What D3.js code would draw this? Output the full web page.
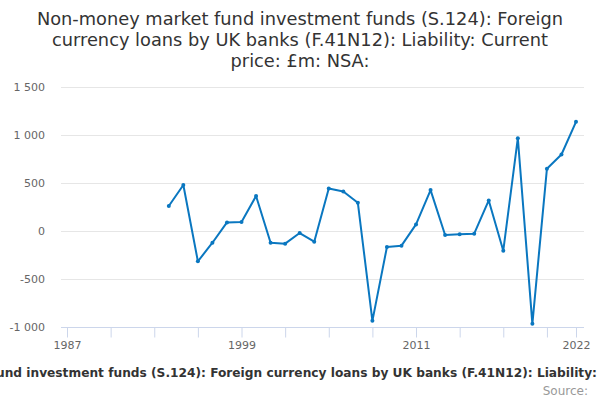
<!DOCTYPE html>
<html>
<head>
  <meta charset="utf-8">
  <title>Foreign currency loans by UK banks</title>
  <script src="https://d3js.org/d3.v7.min.js"></script>
  <style>
    body {
      margin: 0;
      background: #fff;
      overflow: hidden;
    }
    text {
      font-family: "DejaVu Sans", sans-serif;
    }
  </style>
</head>
<body>
  <div id="chart"></div>
  <script>
    // Annual values, £m
    var years = [1994, 1995, 1996, 1997, 1998, 1999, 2000, 2001, 2002, 2003,
                 2004, 2005, 2006, 2007, 2008, 2009, 2010, 2011, 2012, 2013,
                 2014, 2015, 2016, 2017, 2018, 2019, 2020, 2021, 2022];
    var values = [260, 479, -316, -122, 89, 94, 364, -122, -132, -21,
                  -111, 443, 412, 294, -936, -166, -153, 69, 426, -42,
                  -35, -28, 318, -205, 967, -967, 648, 797, 1137];
    var yTicks = [-1000, -500, 0, 500, 1000, 1500];
    var xTicks = [1987, 1990, 1993, 1996, 1999, 2002, 2005, 2008, 2011, 2014, 2017, 2020, 2022];
    var xLabels = [1987, 1999, 2011, 2022];
    var titleLines = [
      "Non-money market fund investment funds (S.124): Foreign",
      "currency loans by UK banks (F.41N12): Liability: Current",
      "price: £m: NSA:"
    ];
    var seriesName = "Non-money market fund investment funds (S.124): Foreign currency loans by UK banks (F.41N12): Liability: Current price: £m: NSA:";

    var width = 600, height = 400;
    var plotLeft = 61, plotRight = 584, plotTop = 87, plotBottom = 327;

    var svg = d3.select("#chart")
      .append("svg")
      .attr("width", width)
      .attr("height", height);

    var x = d3.scaleLinear().domain([1987, 2022]).range([67, 576]);
    var y = d3.scaleLinear().domain([-1000, 1500]).range([plotBottom, plotTop]);

    // "1 500", "-1 000": space for thousands, plain hyphen for minus
    var fmt = function(d) {
      return d3.format(",")(d).replace(/,/g, " ").replace("\u2212", "-");
    };

    // title
    svg.append("text")
      .attr("text-anchor", "middle")
      .attr("font-size", "17.8px")
      .attr("fill", "#333333")
      .selectAll("tspan")
      .data(titleLines)
      .enter()
      .append("tspan")
      .attr("x", width / 2)
      .attr("y", function(d, i) { return 25 + i * 21; })
      .text(function(d) { return d; });

    // gridlines
    svg.append("g")
      .selectAll("line")
      .data(yTicks.filter(function(d) { return d !== -1000; }))
      .enter()
      .append("line")
      .attr("x1", plotLeft)
      .attr("x2", plotRight)
      .attr("y1", function(d) { return Math.round(y(d)) + 0.5; })
      .attr("y2", function(d) { return Math.round(y(d)) + 0.5; })
      .attr("stroke", "#e6e6e6")
      .attr("stroke-width", 1);

    // y labels
    svg.append("g")
      .selectAll("text")
      .data(yTicks)
      .enter()
      .append("text")
      .attr("x", 45)
      .attr("y", function(d) { return y(d) + 4; })
      .attr("text-anchor", "end")
      .attr("font-size", "11px")
      .attr("fill", "#666666")
      .text(fmt);

    // x axis
    var xAxis = d3.axisBottom(x)
      .tickValues(xTicks)
      .tickSize(10)
      .tickFormat(function(d) { return xLabels.indexOf(d) >= 0 ? d : ""; });

    var gx = svg.append("g")
      .attr("transform", "translate(0," + (Math.round(plotBottom) + 0.5) + ")")
      .call(xAxis);
    gx.select(".domain").remove();
    gx.selectAll(".tick line").attr("stroke", "#ccd6eb");
    gx.selectAll(".tick text")
      .attr("y", 14)
      .attr("dy", "0.71em")
      .attr("font-size", "11px")
      .attr("font-family", "DejaVu Sans, sans-serif")
      .attr("fill", "#666666");
    gx.append("line")
      .attr("x1", plotLeft)
      .attr("x2", plotRight)
      .attr("stroke", "#ccd6eb");

    // series
    var data = years.map(function(d, i) { return { year: d, value: values[i] }; });
    var line = d3.line()
      .x(function(d) { return x(d.year); })
      .y(function(d) { return y(d.value); });

    svg.append("path")
      .datum(data)
      .attr("d", line)
      .attr("fill", "none")
      .attr("stroke", "#0a77c0")
      .attr("stroke-width", 2)
      .attr("stroke-linejoin", "round");

    svg.append("g")
      .selectAll("circle")
      .data(data)
      .enter()
      .append("circle")
      .attr("cx", function(d) { return x(d.year); })
      .attr("cy", function(d) { return y(d.value); })
      .attr("r", 2)
      .attr("fill", "#0a77c0");

    // legend: too wide for the page, runs off both edges like the original.
    // pin it so "Liability:" ends just inside the right edge
    var legend = svg.append("text")
      .attr("y", 377)
      .attr("font-size", "12.2px")
      .attr("font-weight", "bold")
      .attr("fill", "#333333")
      .text(seriesName.slice(0, seriesName.indexOf("Liability:") + 10));
    var upTo = legend.node().getComputedTextLength();
    legend.attr("x", 597 - upTo).text(seriesName);

    svg.append("text")
      .attr("x", 588)
      .attr("y", 395)
      .attr("text-anchor", "end")
      .attr("font-size", "12px")
      .attr("fill", "#999999")
      .text("Source:");
  </script>
</body>
</html>
